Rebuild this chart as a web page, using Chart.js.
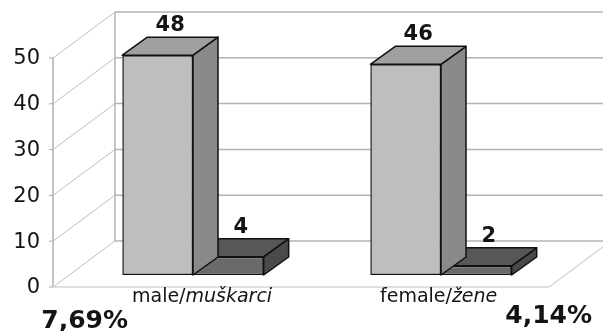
<!DOCTYPE html>
<html>
<head>
<meta charset="utf-8">
<script src="https://cdn.jsdelivr.net/npm/chart.js@4/dist/chart.umd.min.js"></script>
<style>
  html, body { margin: 0; padding: 0; background: #fff; }
  #wrap { width: 603px; height: 331px; }
</style>
</head>
<body>
<div id="wrap"><canvas id="c" width="603" height="331"></canvas></div>
<script>
// Category labels: plain part + italic part
const catPlain = ['male/', 'female/'];
const catItalic = ['muškarci', 'žene'];
const categories = catPlain.map((p, i) => p + catItalic[i]);

// Counts per category
const seriesTotal = [48, 46];
const seriesCases = [4, 2];

// Percent annotations under the categories
const shareLabels = ['7,69%', '4,14%'];

// Value axis
const yMin = 0;
const yMax = 50;
const yStep = 10;

const FONT = '"DejaVu Sans", sans-serif';
const TEXT = '#141414';

// 3D projection offsets (pixels)
const BAR_DX = 25, BAR_DY = -18;   // bar depth
const FRONT_DX = -16, FRONT_DY = 12; // front edge of the box, relative to bar plane
const BACK_DX = 46, BACK_DY = -34;   // back wall, relative to bar plane

const sideColors = ['#8a8a8a', '#4a4a4a'];
const topColors = ['#a0a0a0', '#575757'];

function poly(ctx, pts, fill) {
  ctx.beginPath();
  ctx.moveTo(pts[0][0], pts[0][1]);
  for (let i = 1; i < pts.length; i++) ctx.lineTo(pts[i][0], pts[i][1]);
  ctx.closePath();
  ctx.fillStyle = fill;
  ctx.fill();
  ctx.lineWidth = 1.5;
  ctx.strokeStyle = '#111';
  ctx.lineJoin = 'round';
  ctx.stroke();
}

function line(ctx, x1, y1, x2, y2, color, w) {
  ctx.beginPath();
  ctx.moveTo(x1, y1);
  ctx.lineTo(x2, y2);
  ctx.strokeStyle = color;
  ctx.lineWidth = w;
  ctx.stroke();
}

const box3d = {
  id: 'box3d',
  beforeDatasetsDraw(chart) {
    const { ctx, chartArea: a, scales: { y } } = chart;
    const W = chart.width;
    ctx.save();
    const y0 = y.getPixelForValue(yMin);
    const yTop = y.getPixelForValue(yMax);
    const fx = a.left + FRONT_DX, bx = a.left + BACK_DX;
    // back wall gridlines
    for (let v = yMin; v <= yMax; v += yStep) {
      const py = y.getPixelForValue(v);
      line(ctx, bx, py + BACK_DY, W, py + BACK_DY, '#b4b4b4', 1.5);
      // left wall diagonals
      line(ctx, fx, py + FRONT_DY, bx, py + BACK_DY, '#bdbdbd', 1);
      // small tick marks on the front axis
      line(ctx, fx - 4, py + FRONT_DY, fx, py + FRONT_DY, '#a8a8a8', 1);
    }
    // back wall left edge
    line(ctx, bx, yTop + BACK_DY, bx, y0 + BACK_DY, '#b4b4b4', 1.5);
    // front vertical axis
    line(ctx, fx, yTop + FRONT_DY, fx, y0 + FRONT_DY, '#b0b0b0', 1.5);
    // floor front edge and right edge
    line(ctx, fx, y0 + FRONT_DY, a.right + FRONT_DX, y0 + FRONT_DY, '#d6d6d6', 1.5);
    line(ctx, a.right + FRONT_DX, y0 + FRONT_DY, a.right + BACK_DX, y0 + BACK_DY, '#d6d6d6', 1.5);
    ctx.restore();
  },
  afterDatasetDraw(chart, args) {
    const { ctx } = chart;
    const meta = args.meta;
    const di = args.index;
    ctx.save();
    meta.data.forEach(bar => {
      const L = bar.x - bar.width / 2, R = bar.x + bar.width / 2;
      const t = bar.y, b = bar.base;
      poly(ctx, [[R, t], [R + BAR_DX, t + BAR_DY], [R + BAR_DX, b + BAR_DY], [R, b]], sideColors[di]);
      poly(ctx, [[L, t], [L + BAR_DX, t + BAR_DY], [R + BAR_DX, t + BAR_DY], [R, t]], topColors[di]);
    });
    ctx.restore();
  },
  afterDatasetsDraw(chart) {
    const { ctx, scales: { x, y } } = chart;
    ctx.save();
    ctx.fillStyle = TEXT;
    // value labels above each bar
    ctx.font = 'bold 21px ' + FONT;
    ctx.textAlign = 'center';
    ctx.textBaseline = 'alphabetic';
    chart.data.datasets.forEach((ds, di) => {
      chart.getDatasetMeta(di).data.forEach((bar, i) => {
        ctx.fillText(String(ds.data[i]), bar.x + BAR_DX / 2, bar.y + BAR_DY - 6);
      });
    });
    // category labels (plain + italic)
    const base = y.getPixelForValue(yMin);
    const labelEnds = [];
    categories.forEach((c, i) => {
      const sx = x.getPixelForValue(i) - 61;
      const by = base + 27;
      ctx.textAlign = 'left';
      ctx.font = '19px ' + FONT;
      ctx.fillText(catPlain[i], sx, by);
      const w1 = ctx.measureText(catPlain[i]).width;
      ctx.font = 'italic 19px ' + FONT;
      ctx.fillText(catItalic[i], sx + w1, by);
      const w2 = ctx.measureText(catItalic[i]).width;
      labelEnds.push([sx, sx + w1 + w2]);
    });
    // percentage annotations
    ctx.font = 'bold 25px ' + FONT;
    ctx.textAlign = 'right';
    ctx.fillText(shareLabels[0], labelEnds[0][0] - 4, base + 53);
    ctx.textAlign = 'left';
    ctx.fillText(shareLabels[1], labelEnds[1][1] + 8, base + 48);
    ctx.restore();
  }
};

new Chart(document.getElementById('c'), {
  type: 'bar',
  data: {
    labels: categories,
    datasets: [
      {
        data: seriesTotal,
        backgroundColor: '#bebebe',
        borderColor: '#111',
        borderWidth: 1.5,
        borderSkipped: false
      },
      {
        data: seriesCases,
        backgroundColor: '#6a6a6a',
        borderColor: '#111',
        borderWidth: 1.5,
        borderSkipped: false
      }
    ]
  },
  options: {
    responsive: false,
    animation: false,
    events: [],
    layout: { padding: { top: 46, bottom: 56, right: 38, left: 0 } },
    datasets: {
      bar: { barPercentage: 1, categoryPercentage: 0.57 }
    },
    plugins: {
      legend: { display: false },
      tooltip: { enabled: false },
      title: { display: false }
    },
    scales: {
      x: {
        display: false,
        offset: true
      },
      y: {
        min: yMin,
        max: yMax,
        afterFit(scale) { scale.width = 69; },
        grid: { display: false, drawTicks: false },
        border: { display: false },
        ticks: {
          stepSize: yStep,
          padding: 29,
          labelOffset: 13,
          color: TEXT,
          font: { family: '"DejaVu Sans", sans-serif', size: 21 }
        }
      }
    }
  },
  plugins: [box3d]
});
</script>
</body>
</html>
